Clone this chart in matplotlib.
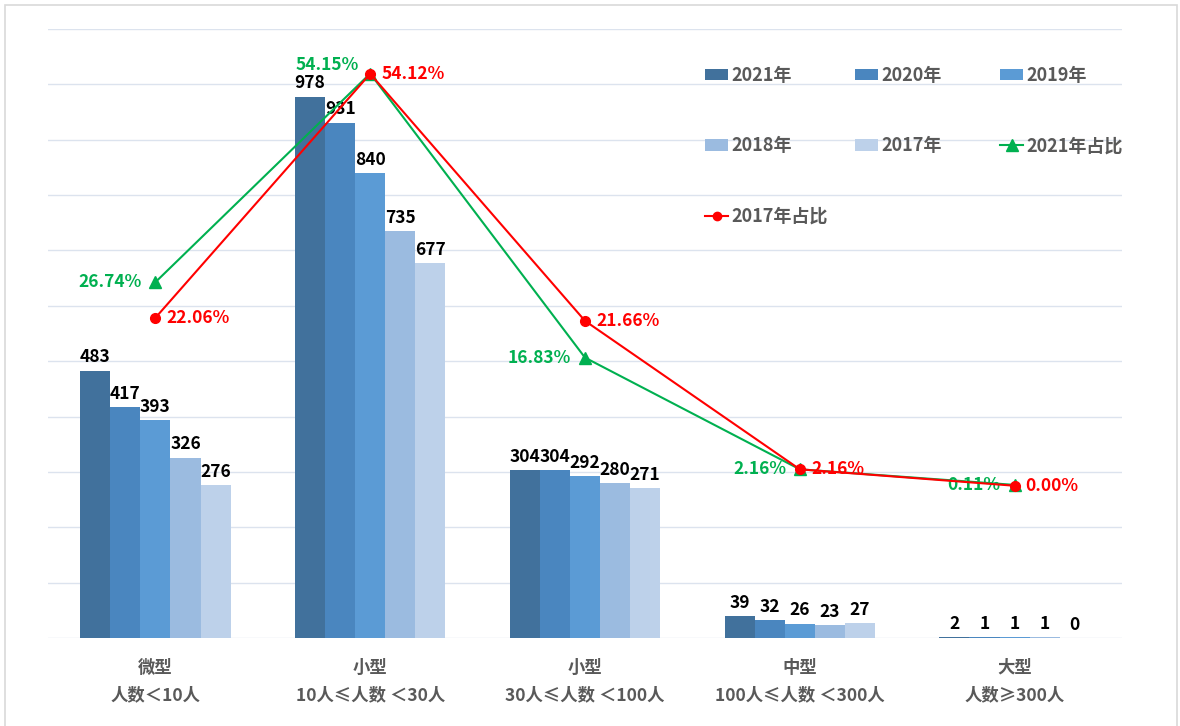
import matplotlib
matplotlib.use("Agg")
import matplotlib.pyplot as plt
from matplotlib.patches import Rectangle, Patch
from matplotlib.lines import Line2D
import numpy as np

plt.rcParams['font.family'] = ['Noto Sans CJK SC', 'DejaVu Sans']

categories = ["微型\n人数＜10人", "小型\n10人≤人数 ＜30人", "小型\n30人≤人数 ＜100人",
              "中型\n100人≤人数 ＜300人", "大型\n人数≥300人"]
years = ["2021年", "2020年", "2019年", "2018年", "2017年"]
v2021 = [483, 978, 304, 39, 2]
v2020 = [417, 931, 304, 32, 1]
v2019 = [393, 840, 292, 26, 1]
v2018 = [326, 735, 280, 23, 1]
v2017 = [276, 677, 271, 27, 0]
share2021 = [26.74, 54.15, 16.83, 2.16, 0.11]
share2017 = [22.06, 54.12, 21.66, 2.16, 0.00]

bar_series = [v2021, v2020, v2019, v2018, v2017]
bar_colors = ["#41719C", "#4A86BF", "#5B9BD5", "#9BBBE0", "#BDD1EA"]
green = "#00B050"
red = "#FF0000"
gray_txt = "#595959"

W, H = 1180, 726
fig = plt.figure(figsize=(W / 100, H / 100), dpi=100)
fig.patches.append(Rectangle((5 / W, -0.01), 1 - 8 / W, 1 - 5 / H + 0.01,
                             transform=fig.transFigure, fill=False,
                             edgecolor="#D9D9D9", linewidth=1.2))
ax = fig.add_axes([48 / W, 1 - 638 / H, (1122 - 48) / W, (638 - 29) / H])

x = np.arange(len(categories))
w = 0.14
for i, (vals, col) in enumerate(zip(bar_series, bar_colors)):
    xs = x + (i - 2) * w
    ax.bar(xs, vals, width=w, color=col, zorder=2)
    for xi, v in zip(xs, vals):
        ax.annotate(str(v), (xi, v), xytext=(0, 3), textcoords="offset points",
                    ha="center", va="bottom", fontsize=12.5, fontweight="bold",
                    color="black", zorder=5)

ax.set_xlim(-0.5, 4.5)
ax.set_ylim(0, 1100)
ax.set_yticks(np.arange(0, 1101, 100))
ax.yaxis.grid(True, color="#DCE3EE", linewidth=1, zorder=0)
ax.set_axisbelow(True)
ax.tick_params(axis="y", length=0, labelleft=False)
ax.set_xticks(x)
ax.set_xticklabels(categories, fontsize=12.5, fontweight="bold", color=gray_txt,
                   linespacing=1.65)
ax.tick_params(axis="x", length=0, pad=15)
for s in ax.spines.values():
    s.set_visible(False)

ax2 = ax.twinx()
ax2.set_ylim(-20, 60)
ax2.set_yticks([])
for s in ax2.spines.values():
    s.set_visible(False)
ax2.plot(x, share2021, color=green, linewidth=1.5, marker="^", markersize=9, zorder=3)
ax2.plot(x, share2017, color=red, linewidth=1.5, marker="o", markersize=7, zorder=4)

for i, (xi, v) in enumerate(zip(x, share2021)):
    off = (-8, 6) if i == 1 else (-10, 0)
    ax2.annotate(f"{v:.2f}%", (xi, v), xytext=off, textcoords="offset points",
                 ha="right", va="center", fontsize=12.5, fontweight="bold", color=green)
for xi, v in zip(x, share2017):
    ax2.annotate(f"{v:.2f}%", (xi, v), xytext=(8, 0), textcoords="offset points",
                 ha="left", va="center", fontsize=12.5, fontweight="bold", color=red)

# legend
h_bars = [Patch(facecolor=c) for c in bar_colors]
h_g = Line2D([], [], color=green, marker="^", markersize=8, linewidth=1.5)
h_r = Line2D([], [], color=red, marker="o", markersize=6, linewidth=1.5)
cols = [
    ([h_bars[0], h_bars[3], h_r], [years[0], years[3], "2017年占比"], 705),
    ([h_bars[1], h_bars[4]], [years[1], years[4]], 855),
    ([h_bars[2], h_g], [years[2], "2021年占比"], 1000),
]
for hs, ls, px in cols:
    leg = fig.legend(hs, ls, loc="upper left", bbox_to_anchor=(px / W, 1 - 66 / H),
                     frameon=False, handlelength=1.3, handleheight=0.6,
                     handletextpad=0.15, labelspacing=2.85, borderpad=0, borderaxespad=0,
                     prop={"size": 13, "weight": "bold"})
    for t in leg.get_texts():
        t.set_color(gray_txt)

fig.savefig("out.png", dpi=100)
